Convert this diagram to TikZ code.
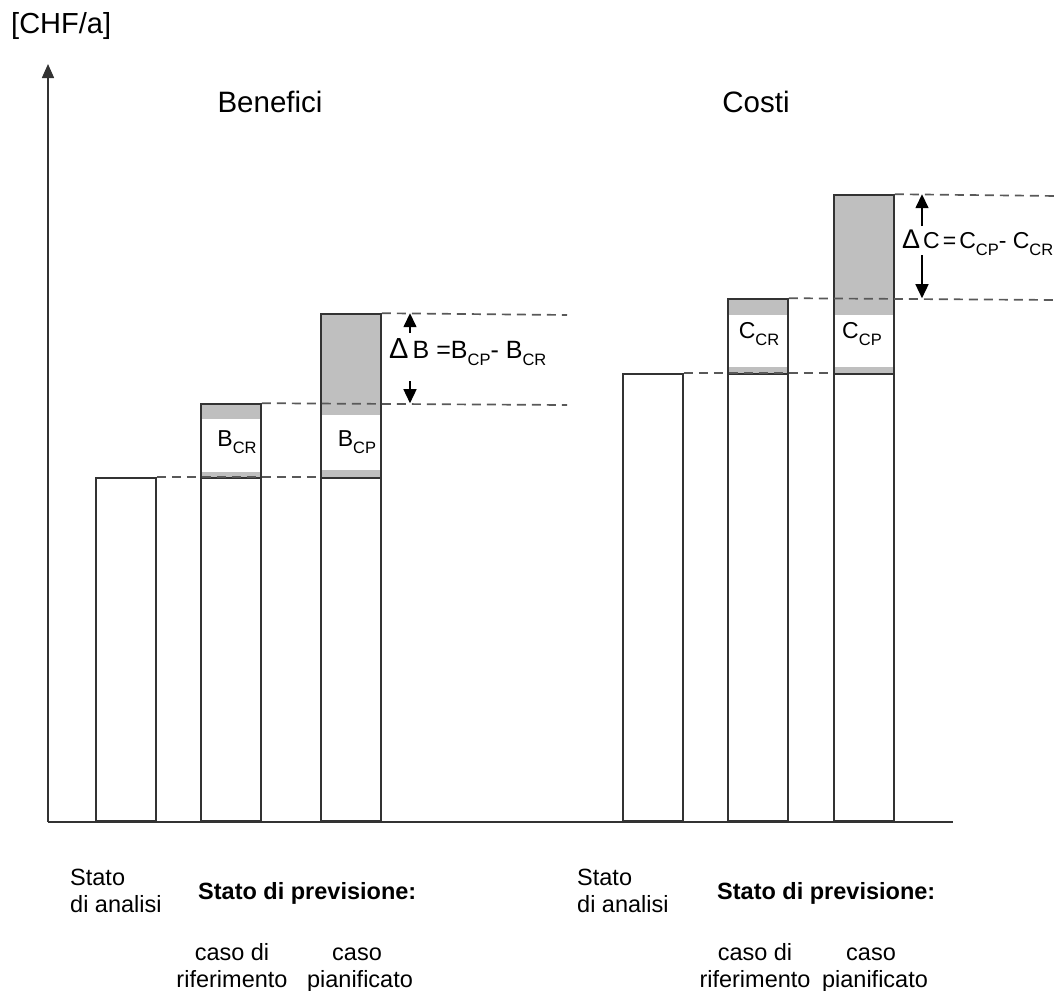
\documentclass[tikz,border=0pt]{standalone}
\usepackage{fontspec}
\setmainfont{Liberation Sans}
\usetikzlibrary{arrows.meta}

\newcommand{\idx}[1]{\raisebox{-7pt}{\fontsize{16.5}{17}\selectfont #1}}

\begin{document}
\begin{tikzpicture}[x=1pt,y=-1pt,
        bar/.style={draw=black!80,line width=1.8pt,minimum width=60pt,inner sep=0pt,anchor=south west},
        band/.style={fill=black!25},
        guide/.style={draw=black!65,line width=1.7pt,dash pattern=on 9pt off 6pt},
        arr/.style={-{Triangle[length=14pt,width=13pt]},line width=1.5pt},
        txt/.style={inner sep=0pt,font=\fontsize{23.5}{27}\selectfont}]
            \useasboundingbox (0,0) rectangle (1058,991);

            % axes
            \coordinate (o) at (48,822);
            \coordinate (ytop) at (48,64);
            \coordinate (xend) at (953,822);
            \draw[line width=1.6pt,black!80,-{Triangle[length=14pt,width=12pt]}] (o) -- (ytop);
            \draw[line width=1.8pt,black!80] (o) -- (xend);

            \node[txt,anchor=west,font=\fontsize{29}{34}\selectfont] (unit) at (11,26) {[CHF/a]};
            \node[txt,font=\fontsize{29.5}{34}\selectfont] (ben) at (270,102) {Benefici};
            \node[txt,font=\fontsize{29.5}{34}\selectfont] (cos) at (756,102) {Costi};

            % grey parts
            \fill[band] (200,405) rectangle (260,419);
            \fill[band] (200,472) rectangle (260,479);
            \fill[band] (320,315) rectangle (380,415);
            \fill[band] (320,470) rectangle (380,479);
            \fill[band] (727,300) rectangle (787,315);
            \fill[band] (727,367) rectangle (787,375);
            \fill[band] (833,196) rectangle (893,315);
            \fill[band] (833,367) rectangle (893,375);

            % benefici
            \node[bar,minimum height=343pt] (la) at (95,822) {};
            \node[bar,minimum height=343pt] (lr) at (200,822) {};
            \node[bar,minimum height=343pt] (lp) at (320,822) {};
            \node[bar,minimum height=74pt] (lrt) at (200,479) {};
            \node[bar,minimum height=164pt] (lpt) at (320,479) {};

            % costi
            \node[bar,minimum height=447pt] (ra) at (622,822) {};
            \node[bar,minimum height=447pt] (rr) at (727,822) {};
            \node[bar,minimum height=447pt] (rp) at (833,822) {};
            \node[bar,minimum height=75pt] (rrt) at (727,375) {};
            \node[bar,minimum height=179pt] (rpt) at (833,375) {};

            \node[txt,font=\fontsize{23}{27}\selectfont] (bcr) at (237,442) {B\idx{CR}};
            \node[txt,font=\fontsize{23}{27}\selectfont] (bcp) at (357,442) {B\idx{CP}};
            \node[txt,font=\fontsize{23}{27}\selectfont] (ccr) at (759,334) {C\idx{CR}};
            \node[txt,font=\fontsize{23}{27}\selectfont] (ccp) at (862,334) {C\idx{CP}};

            % dashed levels
            \coordinate (lcr) at (567,405);
            \coordinate (lcp) at (567,315);
            \coordinate (rcr) at (1058,300);
            \coordinate (rcp) at (1058,196);
            \path [guide] (la.north east) edge (lp.north west);
            \path [guide] (lrt.north east) edge (lcr);
            \path [guide] (lpt.north east) edge (lcp);
            \path [guide] (ra.north east) edge (rp.north west);
            \path [guide] (rrt.north east) edge (rcr);
            \path [guide] (rpt.north east) edge (rcp);

            % differences
            \coordinate (dbu) at (410,333);
            \coordinate (dbd) at (410,381);
            \coordinate (dcu) at (922,226);
            \coordinate (dcd) at (922,255);
            \draw[arr] (dbu) -- (dbu |- lpt.north);
            \draw[arr] (dbd) -- (dbd |- lrt.north);
            \draw[arr] (dcu) -- (dcu |- rpt.north);
            \draw[arr] (dcd) -- (dcd |- rrt.north);

            \node[txt,anchor=west,font=\fontsize{25}{30}\selectfont] (db) at (389,352)
                {{\fontsize{29}{30}\selectfont Δ}\,B =B\idx{CP}- B\idx{CR}};
            \node[txt,anchor=west,font=\fontsize{23}{30}\selectfont] (dc) at (902,243)
                {{\fontsize{27}{30}\selectfont Δ}\kern3pt C\kern3pt=\kern3pt C\idx{CP}- C\idx{CR}};

            % legend below
            \node[txt,anchor=base west] (la1) at (70,885) {Stato};
            \node[txt,anchor=base west] (la2) at (70,912) {di analisi};
            \node[txt,anchor=base west,font=\bfseries\fontsize{23.5}{27}\selectfont] (lprev) at (198,899) {Stato di previsione:};
            \node[txt,anchor=base] (lr1) at (232,960) {caso di};
            \node[txt,anchor=base] (lr2) at (232,987) {riferimento};
            \node[txt,anchor=base] (lp1) at (357,960) {caso};
            \node[txt,anchor=base] (lp2) at (360,987) {pianificato};

            \node[txt,anchor=base west] (ra1) at (577,885) {Stato};
            \node[txt,anchor=base west] (ra2) at (577,912) {di analisi};
            \node[txt,anchor=base west,font=\bfseries\fontsize{23.5}{27}\selectfont] (rprev) at (717,899) {Stato di previsione:};
            \node[txt,anchor=base] (rr1) at (755,960) {caso di};
            \node[txt,anchor=base] (rr2) at (755,987) {riferimento};
            \node[txt,anchor=base] (rp1) at (871,960) {caso};
            \node[txt,anchor=base] (rp2) at (875,987) {pianificato};
        \end{tikzpicture}
\end{document}
